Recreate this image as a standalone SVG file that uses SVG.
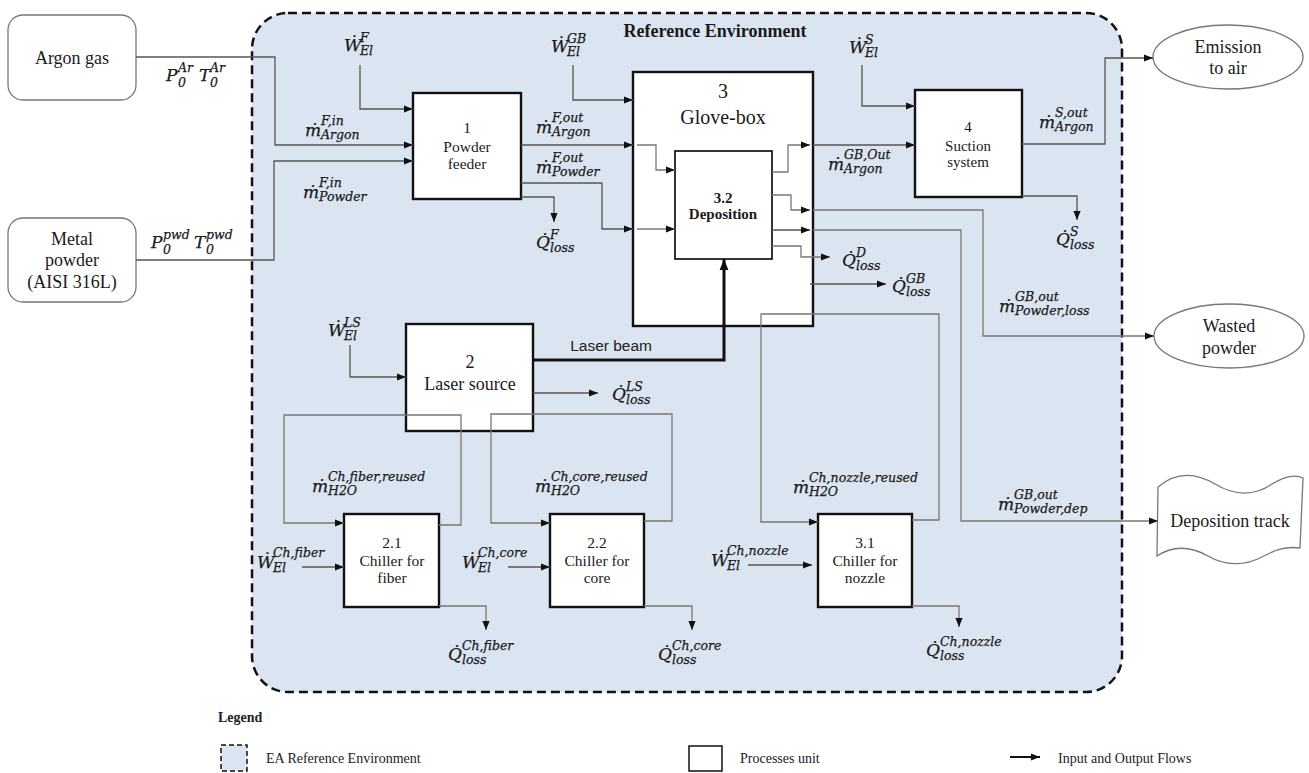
<svg xmlns="http://www.w3.org/2000/svg" width="1309" height="773" viewBox="0 0 1309 773">
<style>
.env{fill:#dbe4f1;stroke:#111;stroke-width:2.5;stroke-dasharray:9 5}
.proc{fill:#fff;stroke:#111;stroke-width:2.4}
.ext{fill:#fff;stroke:#777;stroke-width:1.3}
.t{font-family:"Liberation Serif",serif;fill:#1a1a1a;text-anchor:middle}
.tb{font-family:"Liberation Serif",serif;font-weight:bold;fill:#1a1a1a;text-anchor:middle}
.m{font-family:"DejaVu Serif",serif;font-style:italic;font-size:17px;fill:#1a1a1a;stroke:#1a1a1a;stroke-width:0.25}
.s{font-size:12.5px}
.ln{fill:none;stroke:#555;stroke-width:1.3}
.lg{fill:none;stroke:#777;stroke-width:1.3}
.ar{marker-end:url(#ah)}
.beam{fill:none;stroke:#111;stroke-width:3;marker-end:url(#ahb)}
.lgd{font-family:"Liberation Serif",serif;font-size:14px;fill:#222}
</style>
<defs>
<marker id="ah" viewBox="0 0 10 10" refX="10" refY="5" markerWidth="9" markerHeight="9" markerUnits="userSpaceOnUse" orient="auto"><path d="M0,1 L10,5 L0,9 Z" fill="#111"/></marker>
<marker id="ahb" viewBox="0 0 10 10" refX="10" refY="5" markerWidth="11" markerHeight="11" markerUnits="userSpaceOnUse" orient="auto"><path d="M0,1 L10,5 L0,9 Z" fill="#111"/></marker>
</defs>

<g id="reference-environment">
<rect class="env" x="252" y="13" width="870" height="679" rx="36"/>
<text class="tb" x="715" y="37" font-size="18">Reference Environment</text>
</g>

<g id="argon-gas">
<rect class="ext" x="8" y="15" width="128" height="85" rx="15"/>
<text class="t" x="72" y="64" font-size="18">Argon gas</text>
</g>
<g id="metal-powder">
<rect class="ext" x="8" y="218" width="128" height="84" rx="15"/>
<text class="t" x="72" y="245" font-size="18">Metal</text>
<text class="t" x="72" y="266" font-size="18">powder</text>
<text class="t" x="72" y="288" font-size="18">(AISI 316L)</text>
</g>
<g id="powder-feeder">
<rect class="proc" x="413" y="93" width="108" height="106"/>
<text class="t" x="467" y="133" font-size="15.5">1</text>
<text class="t" x="467" y="152" font-size="15.5">Powder</text>
<text class="t" x="467" y="169" font-size="15.5">feeder</text>
</g>
<g id="glove-box">
<rect class="proc" x="633" y="72" width="180" height="254"/>
<text class="t" x="723" y="98" font-size="20">3</text>
<text class="t" x="723" y="124" font-size="20">Glove-box</text>
</g>
<g id="deposition">
<rect class="proc" x="675" y="151" width="97" height="108" style="stroke-width:1.7"/>
<text class="tb" x="723" y="203" font-size="15">3.2</text>
<text class="tb" x="723" y="219" font-size="15">Deposition</text>
</g>
<g id="suction-system">
<rect class="proc" x="915" y="90" width="107" height="107"/>
<text class="t" x="968" y="132" font-size="15">4</text>
<text class="t" x="968" y="151" font-size="15">Suction</text>
<text class="t" x="968" y="167" font-size="15">system</text>
</g>
<g id="emission-to-air">
<ellipse class="ext" cx="1228" cy="57" rx="75" ry="32"/>
<text class="t" x="1228" y="53" font-size="18">Emission</text>
<text class="t" x="1228" y="74" font-size="18">to air</text>
</g>
<g id="wasted-powder">
<ellipse class="ext" cx="1229" cy="336" rx="75" ry="32"/>
<text class="t" x="1229" y="332" font-size="18">Wasted</text>
<text class="t" x="1229" y="354" font-size="18">powder</text>
</g>
<g id="deposition-track">
<path class="ext" d="M1158,487 C1178,470 1198,474 1215,484 C1235,496 1255,496 1272,484 C1285,476 1295,474 1303,478 L1300,548 C1285,546 1275,550 1262,557 C1245,566 1225,566 1208,556 C1190,546 1172,546 1157,556 Z"/>
<text class="t" x="1230" y="527" font-size="18">Deposition track</text>
</g>
<g id="laser-source">
<rect class="proc" x="406" y="324" width="127" height="107"/>
<text class="t" x="470" y="368" font-size="18">2</text>
<text class="t" x="470" y="390" font-size="18">Laser source</text>
</g>
<g id="chiller-fiber">
<rect class="proc" x="344" y="514" width="95" height="93"/>
<text class="t" x="392" y="548" font-size="15.5">2.1</text>
<text class="t" x="392" y="566" font-size="15.5">Chiller for</text>
<text class="t" x="392" y="583" font-size="15.5">fiber</text>
</g>
<g id="chiller-core">
<rect class="proc" x="550" y="514" width="94" height="93"/>
<text class="t" x="597" y="548" font-size="15.5">2.2</text>
<text class="t" x="597" y="566" font-size="15.5">Chiller for</text>
<text class="t" x="597" y="583" font-size="15.5">core</text>
</g>
<g id="chiller-nozzle">
<rect class="proc" x="818" y="514" width="94" height="93"/>
<text class="t" x="865" y="548" font-size="15.5">3.1</text>
<text class="t" x="865" y="566" font-size="15.5">Chiller for</text>
<text class="t" x="865" y="583" font-size="15.5">nozzle</text>
</g>

<g id="connectors">
<path class="ln ar" d="M136,57 H275 V145 H413"/>
<path class="ln ar" d="M136,260 H274 V161 H413"/>
<path class="ln ar" d="M360,65 V109 H413"/>
<path class="ln ar" d="M521,145 H633"/>
<path class="lg ar" d="M637,145 H656 V170 H675"/>
<path class="ln ar" d="M521,183 H602 V229 H633"/>
<path class="lg ar" d="M637,229 H675"/>
<path class="ln ar" d="M521,197 H554 V222"/>
<path class="ln ar" d="M573,65 V100 H633"/>
<path class="lg ar" d="M772,172 H788 V145 H810"/>
<path class="ln ar" d="M813,145 H915"/>
<path class="ln ar" d="M862,65 V106 H915"/>
<path class="ln ar" d="M1022,144 H1105 V58 H1153"/>
<path class="ln ar" d="M1022,196 H1077 V220"/>
<path class="lg ar" d="M772,195 H791 V210 H810"/>
<path class="lg ar" d="M813,210 H983 V336 H1154"/>
<path class="ln ar" d="M772,230 H810"/>
<path class="lg ar" d="M813,230 H961 V521 H1158"/>
<path class="lg ar" d="M772,246 H801 V257 H830"/>
<path class="ln ar" d="M810,284 H886"/>
<path class="lg ar" d="M912,520 H939 V314 H761 V522 H818"/>
<path class="ln ar" d="M748,565 H812"/>
<path class="lg ar" d="M912,606 H959 V627"/>
<path class="beam" d="M533,360 H724 V259"/>
<path class="ln ar" d="M350,345 V377 H406"/>
<path class="ln ar" d="M533,393 H598"/>
<path class="lg ar" d="M439,525 H461 V415 H284 V523 H344"/>
<path class="ln ar" d="M302,567 H344"/>
<path class="lg ar" d="M439,606 H486 V630"/>
<path class="lg ar" d="M644,521 H672 V414 H491 V523 H550"/>
<path class="ln ar" d="M508,567 H550"/>
<path class="lg ar" d="M644,606 H692 V630"/>
</g>

<g id="flow-labels">
<text x="652" y="351" font-family="Liberation Sans, sans-serif" font-size="15.5" fill="#222" text-anchor="end">Laser beam</text>
<text class="m"><tspan x="166" y="81">P</tspan><tspan class="s" x="178" y="72">Ar</tspan><tspan class="s" x="178" y="87">0</tspan><tspan x="199" y="81">T</tspan><tspan class="s" x="210" y="72">Ar</tspan><tspan class="s" x="210" y="87">0</tspan></text>
<text class="m"><tspan x="151" y="248">P</tspan><tspan class="s" x="163" y="239">pwd</tspan><tspan class="s" x="163" y="254">0</tspan><tspan x="194" y="248">T</tspan><tspan class="s" x="206" y="239">pwd</tspan><tspan class="s" x="206" y="254">0</tspan></text>

<text class="m"><tspan x="305" y="136">&#7745;</tspan><tspan class="s" x="321" y="125">F,in</tspan><tspan class="s" x="321" y="139">Argon</tspan></text>
<text class="m"><tspan x="303" y="198">&#7745;</tspan><tspan class="s" x="319" y="187">F,in</tspan><tspan class="s" x="319" y="201">Powder</tspan></text>
<text class="m"><tspan x="536" y="133">&#7745;</tspan><tspan class="s" x="552" y="122">F,out</tspan><tspan class="s" x="552" y="136">Argon</tspan></text>
<text class="m"><tspan x="536" y="173">&#7745;</tspan><tspan class="s" x="552" y="162">F,out</tspan><tspan class="s" x="552" y="176">Powder</tspan></text>
<text class="m"><tspan x="828" y="170">&#7745;</tspan><tspan class="s" x="844" y="159">GB,Out</tspan><tspan class="s" x="844" y="173">Argon</tspan></text>
<text class="m"><tspan x="1039" y="128">&#7745;</tspan><tspan class="s" x="1055" y="117">S,out</tspan><tspan class="s" x="1055" y="131">Argon</tspan></text>
<text class="m"><tspan x="999" y="312">&#7745;</tspan><tspan class="s" x="1015" y="301">GB,out</tspan><tspan class="s" x="1015" y="315">Powder,loss</tspan></text>
<text class="m"><tspan x="998" y="510">&#7745;</tspan><tspan class="s" x="1014" y="499">GB,out</tspan><tspan class="s" x="1014" y="513">Powder,dep</tspan></text>
<text class="m"><tspan x="312" y="492">&#7745;</tspan><tspan class="s" x="328" y="481">Ch,fiber,reused</tspan><tspan class="s" x="328" y="495">H2O</tspan></text>
<text class="m"><tspan x="535" y="492">&#7745;</tspan><tspan class="s" x="551" y="481">Ch,core,reused</tspan><tspan class="s" x="551" y="495">H2O</tspan></text>
<text class="m"><tspan x="793" y="493">&#7745;</tspan><tspan class="s" x="809" y="482">Ch,nozzle,reused</tspan><tspan class="s" x="809" y="496">H2O</tspan></text>

<text class="m"><tspan x="344" y="51">&#7814;</tspan><tspan class="s" x="360" y="42">F</tspan><tspan class="s" x="360" y="55">El</tspan></text>
<text class="m"><tspan x="551" y="52">&#7814;</tspan><tspan class="s" x="567" y="43">GB</tspan><tspan class="s" x="567" y="56">El</tspan></text>
<text class="m"><tspan x="849" y="53">&#7814;</tspan><tspan class="s" x="865" y="44">S</tspan><tspan class="s" x="865" y="57">El</tspan></text>
<text class="m"><tspan x="328" y="336">&#7814;</tspan><tspan class="s" x="344" y="327">LS</tspan><tspan class="s" x="344" y="340">El</tspan></text>
<text class="m"><tspan x="257" y="568">&#7814;</tspan><tspan class="s" x="273" y="557">Ch,fiber</tspan><tspan class="s" x="273" y="572">El</tspan></text>
<text class="m"><tspan x="462" y="568">&#7814;</tspan><tspan class="s" x="478" y="557">Ch,core</tspan><tspan class="s" x="478" y="572">El</tspan></text>
<text class="m"><tspan x="711" y="566">&#7814;</tspan><tspan class="s" x="727" y="555">Ch,nozzle</tspan><tspan class="s" x="727" y="570">El</tspan></text>

<text class="m"><tspan x="536" y="248">Q&#775;</tspan><tspan class="s" x="550" y="239">F</tspan><tspan class="s" x="550" y="252">loss</tspan></text>
<text class="m"><tspan x="1056" y="245">Q&#775;</tspan><tspan class="s" x="1070" y="236">S</tspan><tspan class="s" x="1070" y="249">loss</tspan></text>
<text class="m"><tspan x="842" y="266">Q&#775;</tspan><tspan class="s" x="856" y="257">D</tspan><tspan class="s" x="856" y="270">loss</tspan></text>
<text class="m"><tspan x="892" y="292">Q&#775;</tspan><tspan class="s" x="906" y="283">GB</tspan><tspan class="s" x="906" y="296">loss</tspan></text>
<text class="m"><tspan x="612" y="400">Q&#775;</tspan><tspan class="s" x="626" y="391">LS</tspan><tspan class="s" x="626" y="404">loss</tspan></text>
<text class="m"><tspan x="448" y="660">Q&#775;</tspan><tspan class="s" x="462" y="650">Ch,fiber</tspan><tspan class="s" x="462" y="664">loss</tspan></text>
<text class="m"><tspan x="658" y="660">Q&#775;</tspan><tspan class="s" x="672" y="650">Ch,core</tspan><tspan class="s" x="672" y="664">loss</tspan></text>
<text class="m"><tspan x="926" y="656">Q&#775;</tspan><tspan class="s" x="940" y="646">Ch,nozzle</tspan><tspan class="s" x="940" y="660">loss</tspan></text>
</g>

<g id="legend">
<text class="lgd" x="218" y="722" font-weight="bold">Legend</text>
<rect x="221" y="745" width="26" height="26" fill="#dbe4f1" stroke="#111" stroke-width="1.5" stroke-dasharray="5 3"/>
<text class="lgd" x="266" y="763">EA Reference Environment</text>
<rect x="689" y="746" width="33" height="25" fill="#fff" stroke="#111" stroke-width="1.5"/>
<text class="lgd" x="740" y="763">Processes unit</text>
<path d="M1010,757 H1040" fill="none" stroke="#111" stroke-width="2" marker-end="url(#ah)"/>
<text class="lgd" x="1058" y="763">Input and Output Flows</text>
</g>
</svg>
